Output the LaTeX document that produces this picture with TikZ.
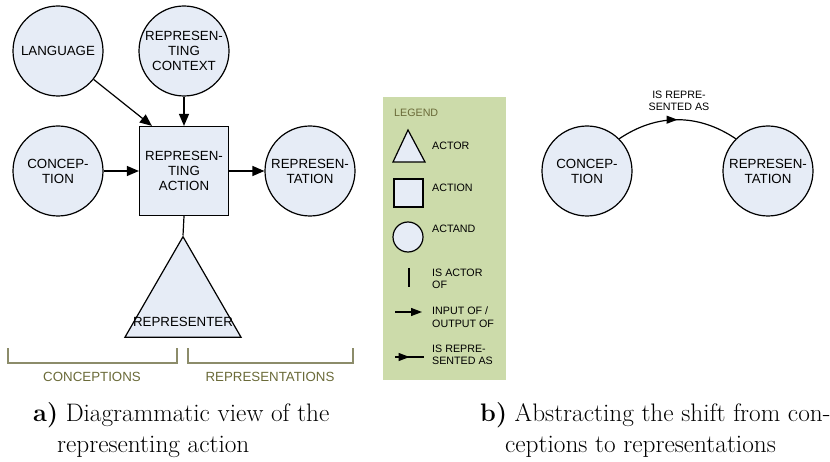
\documentclass[tikz,border=0pt]{standalone}
\usepackage{fontspec}
\newfontfamily\arial{Liberation Sans}
\usetikzlibrary{arrows.meta,shapes.geometric,decorations.markings}
\definecolor{actfill}{HTML}{E6ECF6}
\definecolor{legendfill}{HTML}{CCDBAA}
\definecolor{olivetext}{HTML}{6A6A38}
\definecolor{bracketcol}{HTML}{8C8C6A}
\begin{document}
\begin{tikzpicture}[x=1pt,y=-1pt,
  lbl/.style={font=\arial\fontsize{13.3}{15}\selectfont,align=center,inner sep=0pt},
  small/.style={font=\arial\fontsize{10.7}{12.5}\selectfont,align=left,inner sep=0pt,anchor=west},
  actand/.style={circle,draw,fill=actfill,line width=1.2pt,minimum size=90pt,inner sep=0pt,lbl},
  action/.style={rectangle,draw,fill=actfill,line width=1.2pt,minimum size=89pt,inner sep=0pt,lbl},
  actor/.style={regular polygon,regular polygon sides=3,draw,fill=actfill,line width=1.2pt,minimum size=134pt,inner sep=0pt},
  arr/.style={line width=1.2pt,-{Triangle[length=12pt,width=10pt]}},
  plain/.style={line width=1.2pt},
  midarrow/.style={line width=1.2pt,decoration={markings,mark=at position 0.5 with {\arrow{Triangle[length=11pt,width=8pt]}}},postaction={decorate}},
  brace/.style={draw=bracketcol,line width=1.2pt},
  olivelbl/.style={font=\arial\fontsize{13.3}{15}\selectfont,text=olivetext,inner sep=0pt},
  caption/.style={font=\fontsize{25.3}{30}\selectfont,anchor=base west,inner sep=0pt}
]
\useasboundingbox (0,0) rectangle (830,462);

% ---- representing action ----
\node[actand] (lang) at (58,51) {LANGUAGE};
\node[actand] (ctx) at (184,51) {REPRESEN-\\TING\\CONTEXT};
\node[actand] (conc) at (58,171) {CONCEP-\\TION};
\node[action] (act) at (184,171) {REPRESEN-\\TING\\ACTION};
\node[actand] (repr) at (310,171) {REPRESEN-\\TATION};
\node[actor] (actor) at (183,303.7) {};
\node[lbl] (actorname) at (183,322) {REPRESENTER};

\draw[arr] (lang) -- ([xshift=13pt]act.north west);
\draw[arr] (ctx) -- (act);
\draw[arr] (conc) -- (act);
\draw[arr] (act) -- (repr);
\draw[plain] (act.south) -- (actor.corner 1);

% ---- brackets ----
\coordinate (b1a) at (8,348);  \coordinate (b1b) at (177,348);
\coordinate (b2a) at (188,348); \coordinate (b2b) at (353,348);
\draw[brace] (b1a) -- ++(0,15) -| (b1b);
\draw[brace] (b2a) -- ++(0,15) -| (b2b);
\node[olivelbl] (concs) at (92,377) {CONCEPTIONS};
\node[olivelbl] (reprs) at (270,377) {REPRESENTATIONS};

% ---- legend ----
\fill[legendfill] (383,97) rectangle (506,380);
\node[small,text=olivetext] (legtitle) at (394,113) {LEGEND};
\draw[fill=actfill,line width=1.2pt] (408,130) -- (425,162) -- (393,162) -- cycle;
\node[small] (legactor) at (432,146) {ACTOR};
\draw[fill=actfill,line width=1.2pt] (394,179) rectangle (423,207);
\node[small] (legaction) at (432,188) {ACTION};
\draw[fill=actfill,line width=1.2pt] (408,237) circle (15);
\node[small] (legactand) at (432,229) {ACTAND};
\coordinate (l1a) at (409,268); \coordinate (l1b) at (409,287);
\draw[plain] (l1a) -- (l1b);
\node[small] (legactorof) at (432,279) {IS ACTOR\\OF};
\coordinate (l2a) at (395,312); \coordinate (l2b) at (422,312);
\draw[line width=1.2pt,-{Triangle[length=11pt,width=8pt]}] (l2a) -- (l2b);
\node[small] (leginput) at (432,317) {INPUT OF /\\OUTPUT OF};
\coordinate (l3a) at (395,357); \coordinate (l3b) at (424,357);
\draw[midarrow] (l3a) -- (l3b);
\node[small] (legrepr) at (432,355) {IS REPRE-\\SENTED AS};

% ---- abstracted shift ----
\node[actand] (conc2) at (587,171) {CONCEP-\\TION};
\node[actand] (repr2) at (768,171) {REPRESEN-\\TATION};
\draw[midarrow] (conc2.45) to[bend left=34] (repr2.135);
\node[font=\arial\fontsize{10.7}{12.5}\selectfont,align=center,inner sep=0pt] (shiftlbl) at (679,101) {IS REPRE-\\SENTED AS};

% ---- captions ----
\node[caption] (capa1) at (33,421) {\textbf{a)} Diagrammatic view of the};
\node[caption] (capa2) at (57,452) {representing action};
\node[caption] (capb1) at (480,421) {\textbf{b)} Abstracting the shift from con-};
\node[caption] (capb2) at (505,452) {ceptions to representations};
\end{tikzpicture}
\end{document}
